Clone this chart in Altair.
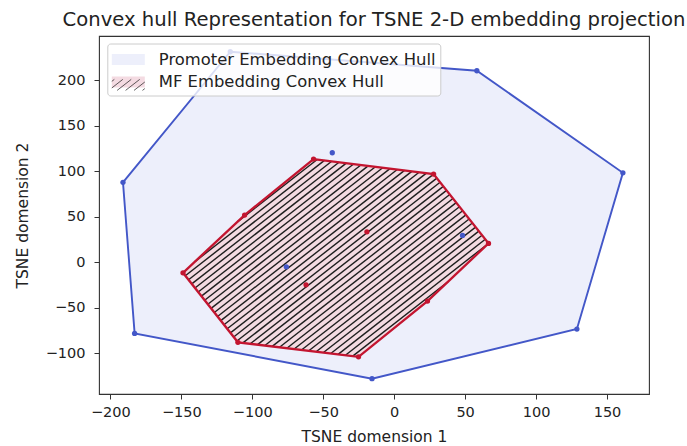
import math
import altair as alt
import pandas as pd

# ---------------- data ----------------
series_names = ["Promoter Embedding Convex Hull", "MF Embedding Convex Hull"]

promoter_hull_x = [-115.5, 58.3, 161.2, 128.8, -15.6, -182.9, -191.1]
promoter_hull_y = [231.1, 210.2, 98.1, -73.6, -128.2, -78.4, 87.6]
promoter_inner_x = [-43.6, -76.0, 48.2]
promoter_inner_y = [120.1, -5.2, 29.3]

mf_hull_x = [-56.8, 27.8, 66.5, 23.5, -25.1, -110.1, -148.8, -105.4]
mf_hull_y = [113.2, 96.7, 20.5, -42.9, -104.1, -88.2, -11.8, 51.6]
mf_inner_x = [-19.2, -62.1]
mf_inner_y = [33.2, -25.0]

x_ticks = [-200, -150, -100, -50, 0, 50, 100, 150]
y_ticks = [-100, -50, 0, 50, 100, 150, 200]
x_domain = [-208.0, 179.6]
y_domain = [-145.0, 248.4]

# ---------------- styling ----------------
W, H = 550, 358
BLUE = "#4357c8"
RED = "#c31530"
BLUE_FILL = "#edeffb"
RED_FILL = "#f4dbe2"
HATCH = "#1e1e1e"
FONT = "DejaVu Sans"
TEXT = "#222222"
HATCH_ANGLE = math.radians(38)
HATCH_SPACING = 5.2  # px, perpendicular

# ---------------- tables ----------------
hull_rows = []
for name, xs, ys in [(series_names[0], promoter_hull_x, promoter_hull_y),
                     (series_names[1], mf_hull_x, mf_hull_y)]:
    for i, (x, y) in enumerate(list(zip(xs, ys)) + [(xs[0], ys[0])]):
        hull_rows.append({"series": name, "idx": i, "x": x, "y": y})
hull_df = pd.DataFrame(hull_rows)

pt_rows = []
for name, xs, ys in [(series_names[0], promoter_hull_x + promoter_inner_x, promoter_hull_y + promoter_inner_y),
                     (series_names[1], mf_hull_x + mf_inner_x, mf_hull_y + mf_inner_y)]:
    for x, y in zip(xs, ys):
        pt_rows.append({"series": name, "x": x, "y": y})
pts_df = pd.DataFrame(pt_rows)

# hatch lines: clip parallel pixel-space lines to the MF hull
sx = W / (x_domain[1] - x_domain[0])
sy = H / (y_domain[1] - y_domain[0])
dvec = (math.cos(HATCH_ANGLE), -math.sin(HATCH_ANGLE))
nvec = (math.sin(HATCH_ANGLE), math.cos(HATCH_ANGLE))


def clip_lines(poly, spacing, phase=0.5):
    cs = [nvec[0] * p[0] + nvec[1] * p[1] for p in poly]
    segs = []
    c = min(cs) + spacing * phase
    while c < max(cs):
        hits = []
        for i in range(len(poly)):
            j = (i + 1) % len(poly)
            ci, cj = cs[i], cs[j]
            if (ci - c) * (cj - c) < 0:
                t = (c - ci) / (cj - ci)
                hits.append((poly[i][0] + t * (poly[j][0] - poly[i][0]),
                             poly[i][1] + t * (poly[j][1] - poly[i][1])))
        if len(hits) >= 2:
            hits.sort(key=lambda p: p[0] * dvec[0] + p[1] * dvec[1])
            segs.append((hits[0], hits[-1]))
        c += spacing
    return segs


poly_px = [((x - x_domain[0]) * sx, (y_domain[1] - y) * sy) for x, y in zip(mf_hull_x, mf_hull_y)]
hatch_rows = []
for (a, b) in clip_lines(poly_px, HATCH_SPACING):
    hatch_rows.append({"x": a[0] / sx + x_domain[0], "y": y_domain[1] - a[1] / sy,
                       "x2": b[0] / sx + x_domain[0], "y2": y_domain[1] - b[1] / sy})
hatch_df = pd.DataFrame(hatch_rows)

# legend symbols (custom paths, unit = 11 px)
U = 11.0
rect_px = [(-11.5, -5.5), (21.5, -5.5), (21.5, 5.5), (-11.5, 5.5)]
rect_path = "M{:.4f},{:.4f}H{:.4f}V{:.4f}H{:.4f}Z".format(-11.5 / U, -5.5 / U, 21.5 / U, 5.5 / U, -11.5 / U)
hatch_path = " ".join(
    "M{:.4f},{:.4f}L{:.4f},{:.4f}".format(a[0] / U, a[1] / U, b[0] / U, b[1] / U)
    for a, b in clip_lines(rect_px, HATCH_SPACING, 0.3))

ROW_PAD = 2.4
LEG_Y = 7.5
legend_common = dict(orient="none", legendX=8.3, title=None, padding=4.5, rowPadding=ROW_PAD,
                     symbolSize=484, symbolStrokeWidth=1, labelFont=FONT, labelFontSize=16.4,
                     labelOffset=24, labelLimit=600, labelColor=TEXT)
legend_a = alt.Legend(legendY=LEG_Y, symbolType=rect_path, symbolStrokeColor="transparent",
                      fillColor="rgba(255,255,255,0.8)", strokeColor="#cccccc", cornerRadius=3,
                      **legend_common)
legend_b = alt.Legend(legendY=LEG_Y + 23 + ROW_PAD, symbolType=hatch_path, symbolFillColor="transparent",
                      labelExpr="''", **legend_common)

xenc = alt.X("x:Q", scale=alt.Scale(domain=x_domain, nice=False, zero=False),
             axis=alt.Axis(values=x_ticks, title="TSNE domension 1", labelPadding=6, titlePadding=11))
yenc = alt.Y("y:Q", scale=alt.Scale(domain=y_domain, nice=False, zero=False),
             axis=alt.Axis(values=y_ticks, title="TSNE domension 2", labelPadding=9, titlePadding=15))
fill_enc = alt.Fill("series:N", scale=alt.Scale(domain=series_names, range=[BLUE_FILL, RED_FILL]),
                    legend=legend_a)

base_hull = alt.Chart(hull_df)

blue_poly = base_hull.transform_filter(alt.datum.series == series_names[0]).mark_line(
    stroke=BLUE, strokeWidth=1.9).encode(x=xenc, y=yenc, fill=fill_enc, order="idx:Q")

red_fill = base_hull.transform_filter(alt.datum.series == series_names[1]).mark_line(
    stroke="transparent", strokeWidth=0).encode(x=xenc, y=yenc, fill=fill_enc, order="idx:Q")

hatch = alt.Chart(hatch_df).mark_rule(color=HATCH, strokeWidth=1.4).encode(
    x=xenc, y=yenc, x2="x2:Q", y2="y2:Q")

red_line = base_hull.transform_filter(alt.datum.series == series_names[1]).mark_line(
    stroke=RED, strokeWidth=2.3).encode(x=xenc, y=yenc, order="idx:Q")

points = alt.Chart(pts_df).mark_circle(size=28, opacity=1).encode(
    x=xenc, y=yenc,
    color=alt.Color("series:N", scale=alt.Scale(domain=series_names, range=[BLUE, RED]), legend=None))

legend_hatch = alt.Chart(pts_df).transform_filter("false").mark_point().encode(
    x=xenc, y=yenc,
    stroke=alt.Stroke("series:N", scale=alt.Scale(domain=[series_names[1]], range=[HATCH]),
                      legend=legend_b))

chart = alt.layer(blue_poly, red_fill, hatch, red_line, points, legend_hatch).properties(
    width=W, height=H,
    padding={"left": 99, "top": 36, "right": 38, "bottom": 52},
    autosize=alt.AutoSizeParams(type="none"),
    title=alt.TitleParams(text="Convex hull Representation for TSNE 2-D embedding projection",
                          fontSize=19.6, font=FONT, fontWeight="normal", color=TEXT,
                          anchor="middle", frame="group", offset=6, dy=16, baseline="alphabetic"),
).configure_view(stroke="#333333", strokeWidth=1.1).configure_axis(
    grid=False, domain=False, tickSize=5, tickColor="#333333", tickWidth=1,
    labelFont=FONT, labelFontSize=14.5, labelColor=TEXT,
    titleFont=FONT, titleFontSize=15.5, titleFontWeight="normal", titleColor=TEXT,
)

chart.save("out.html", embed_options={"renderer": "svg", "actions": False})
